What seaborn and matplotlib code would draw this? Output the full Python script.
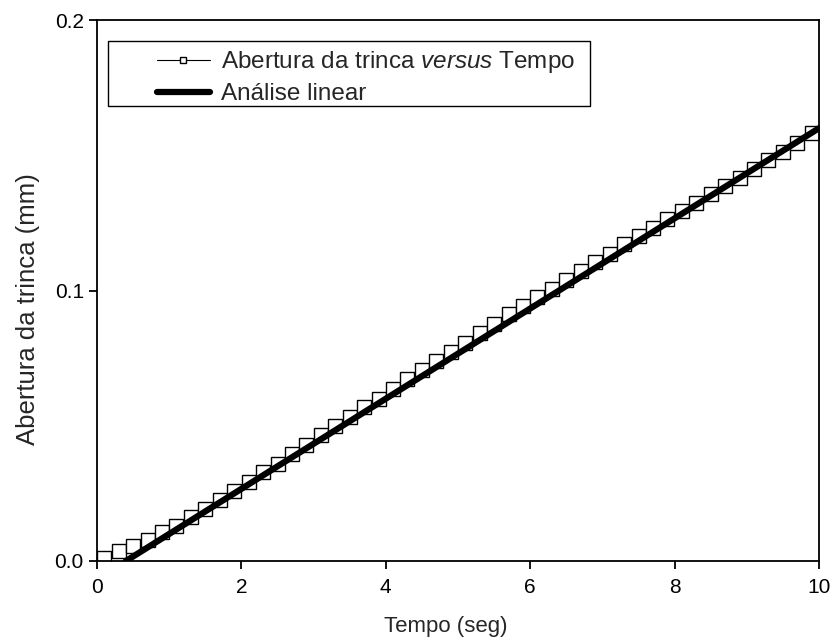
import matplotlib
matplotlib.use("Agg")
import matplotlib.pyplot as plt
from matplotlib.patches import Rectangle
import seaborn as sns
import pandas as pd

# data
tempo = [0.1, 0.3, 0.5, 0.7, 0.9, 1.1, 1.3, 1.5, 1.7, 1.9,
         2.1, 2.3, 2.5, 2.7, 2.9, 3.1, 3.3, 3.5, 3.7, 3.9,
         4.1, 4.3, 4.5, 4.7, 4.9, 5.1, 5.3, 5.5, 5.7, 5.9,
         6.1, 6.3, 6.5, 6.7, 6.9, 7.1, 7.3, 7.5, 7.7, 7.9,
         8.1, 8.3, 8.5, 8.7, 8.9, 9.1, 9.3, 9.5, 9.7, 9.9]
abertura = [0.0011, 0.0036, 0.0057, 0.0079, 0.0108, 0.0130, 0.0162, 0.0193, 0.0227, 0.0260,
            0.0293, 0.0330, 0.0357, 0.0397, 0.0430, 0.0466, 0.0499, 0.0532, 0.0569, 0.0600,
            0.0635, 0.0672, 0.0707, 0.0740, 0.0774, 0.0806, 0.0842, 0.0876, 0.0912, 0.0943,
            0.0976, 0.1007, 0.1040, 0.1073, 0.1105, 0.1136, 0.1171, 0.1201, 0.1231, 0.1263,
            0.1294, 0.1323, 0.1356, 0.1386, 0.1417, 0.1449, 0.1481, 0.1513, 0.1546, 0.1582]
fit_x = [0.4, 10.0]
fit_y = [0.0, 0.16]
x_ticks = [0, 2, 4, 6, 8, 10]
y_ticks = [0.0, 0.1, 0.2]
label_series = "Abertura da trinca $\\it{versus}$ Tempo"
label_fit = "Análise linear"

sns.set_theme(style="ticks")
plt.rcParams['font.family'] = ['Liberation Sans', 'DejaVu Sans']
plt.rcParams['mathtext.fontset'] = 'custom'
plt.rcParams['mathtext.rm'] = 'Liberation Sans'
plt.rcParams['mathtext.it'] = 'Liberation Sans:italic'

df = pd.DataFrame({"t": tempo, "a": abertura})
dfit = pd.DataFrame({"t": fit_x, "a": fit_y})

fig = plt.figure(figsize=(8.32, 6.42), dpi=100)
ax = fig.add_axes([97/832, 1-561/642, (819-97)/832, (561-20)/642])

sns.lineplot(data=df, x="t", y="a", ax=ax, color="black", linewidth=0.8,
             marker="s", markersize=9.6, markerfacecolor="white",
             markeredgecolor="black", markeredgewidth=1.0,
             label=label_series, zorder=2)
sns.lineplot(data=dfit, x="t", y="a", ax=ax, color="black", linewidth=4.5,
             label=label_fit, zorder=3)

ax.set_xlim(0, 10)
ax.set_ylim(0, 0.2)
ax.set_xticks(x_ticks)
ax.set_xticklabels([str(v) for v in x_ticks])
ax.set_yticks(y_ticks)
ax.set_yticklabels([f"{v:.1f}" for v in y_ticks])
ax.tick_params(direction="out", length=6, width=1.3, colors="black", labelsize=15)
ax.tick_params(axis="x", pad=6.5)
ax.tick_params(axis="y", pad=3.5)
for s in ax.spines.values():
    s.set_visible(True)
    s.set_linewidth(1.3)
    s.set_color("black")

ax.set_xlabel("Tempo (seg)", fontsize=16)
ax.set_ylabel("Abertura da trinca (mm)", fontsize=18.5)
ax.xaxis.set_label_coords(0.483, -0.101)
ax.yaxis.set_label_coords(-0.079, 0.466)

leg = ax.legend(loc="upper left", bbox_to_anchor=(0.0831, 0.946), fontsize=17.5,
                frameon=False, markerscale=0.5, handlelength=2.18,
                handletextpad=0.45, borderpad=0, labelspacing=0.33,
                borderaxespad=0)
ax.add_patch(Rectangle((0.01524, 0.841), 0.6676, 0.1201, transform=ax.transAxes,
                       fill=False, edgecolor="black", linewidth=1.0, zorder=5))

fig.savefig("out.png", dpi=100)
